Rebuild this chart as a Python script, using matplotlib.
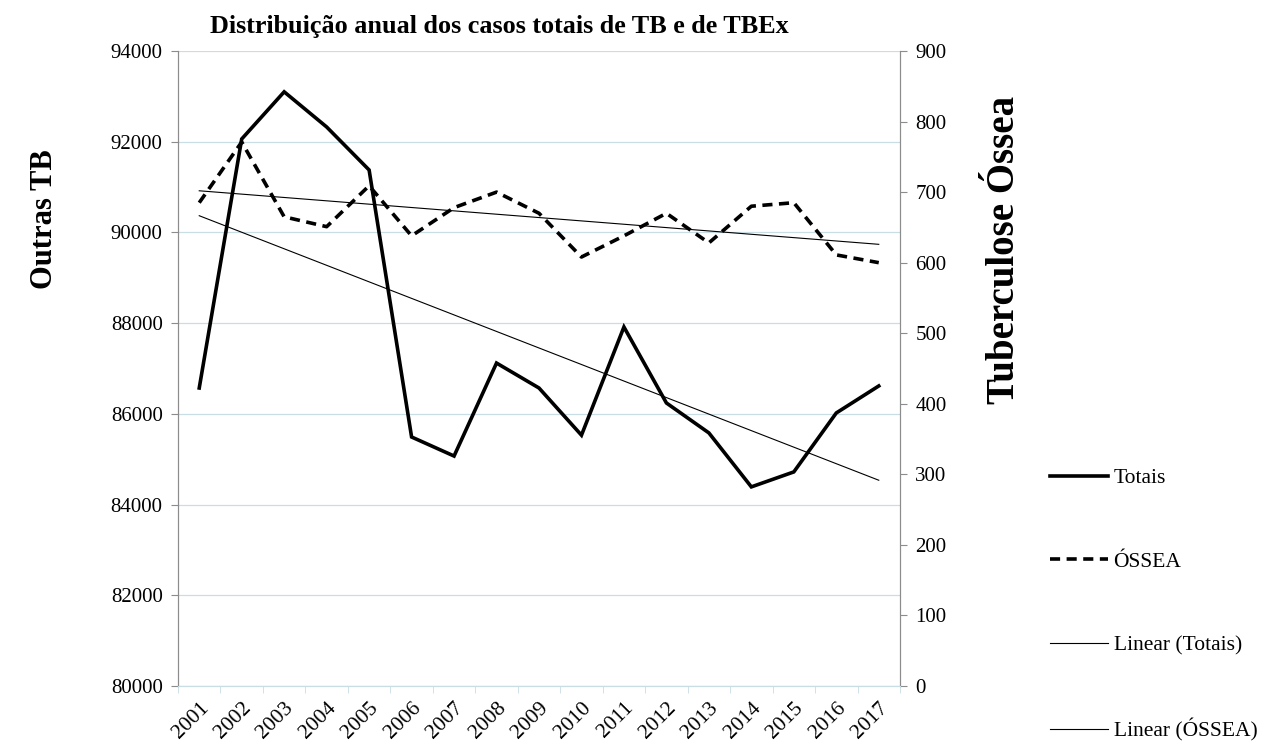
import numpy as np
import matplotlib
matplotlib.use("Agg")
import matplotlib.pyplot as plt

plt.rcParams["font.family"] = ["Liberation Serif", "DejaVu Serif"]

# Dados
anos = ["2001", "2002", "2003", "2004", "2005", "2006", "2007", "2008", "2009",
        "2010", "2011", "2012", "2013", "2014", "2015", "2016", "2017"]
totais = [86570, 92060, 93100, 92325, 91377, 85490, 85070, 87120, 86570,
          85530, 87915, 86240, 85580, 84390, 84720, 86020, 86615]
ossea = [685, 771, 665, 651, 709, 638, 678, 700, 670,
         608, 638, 670, 628, 680, 685, 611, 600]

titulo = "Distribuição anual dos casos totais de TB e de TBEx"
label_esq = "Outras TB"
label_dir = "Tuberculose Óssea"

x = np.arange(len(anos))
coef_tot = np.polyfit(x, totais, 1)
coef_oss = np.polyfit(x, ossea, 1)

fig = plt.figure(figsize=(12.69, 7.44), dpi=100)
ax = fig.add_axes([178 / 1269, 1 - 686 / 744, (900 - 178) / 1269, (686 - 51) / 744])
ax2 = ax.twinx()

grid_c = "#c9dde5"
spine_c = "#8c8c8c"

l1, = ax.plot(x, totais, color="black", lw=2.6, solid_joinstyle="miter", label="Totais")
l3, = ax.plot(x, np.polyval(coef_tot, x), color="black", lw=0.8, label="Linear (Totais)")
l2, = ax2.plot(x, ossea, color="black", lw=2.6, linestyle=(0, (2.8, 1.8)), label="ÓSSEA")
l4, = ax2.plot(x, np.polyval(coef_oss, x), color="black", lw=0.8, label="Linear (ÓSSEA)")

ax.set_xlim(-0.5, len(anos) - 0.5)
ax.set_ylim(80000, 94000)
ax.set_yticks(np.arange(80000, 94001, 2000))
ax2.set_ylim(0, 900)
ax2.set_yticks(np.arange(0, 901, 100))

ax.set_xticks(x)
ax.set_xticklabels(anos, rotation=45, ha="right", rotation_mode="anchor")
ax.set_xticks(np.arange(-0.5, len(anos)), minor=True)
ax.tick_params(axis="x", which="major", length=0, labelsize=15.5, pad=9)
ax.tick_params(axis="x", which="minor", length=5, color=grid_c)
ax.tick_params(axis="y", labelsize=15, length=5, color=spine_c, pad=6)
ax2.tick_params(axis="y", labelsize=15, length=5, color=spine_c, pad=6)

ax.grid(axis="y", color=grid_c, lw=0.9)
ax.set_axisbelow(True)

for a in (ax, ax2):
    a.spines["top"].set_visible(False)
    a.spines["left"].set_color(spine_c)
    a.spines["right"].set_color(spine_c)
    a.spines["bottom"].set_color(grid_c)

fig.text(499 / 1269, 1 - 26 / 744, titulo, ha="center", va="center",
         fontsize=18.8, fontweight="bold")
fig.text(45 / 1269, 1 - 219 / 744, label_esq, ha="center", va="center",
         rotation=90, fontsize=22, fontweight="bold")
fig.text(1005 / 1269, 1 - 250 / 744, label_dir, ha="center", va="center",
         rotation=90, fontsize=28, fontweight="bold")

fig.legend(handles=[l1, l2, l3, l4], loc="center left",
           bbox_to_anchor=(1050 / 1269, 1 - 605 / 744), frameon=False,
           fontsize=15.5, labelspacing=2.95, handlelength=2.7, handletextpad=0.25,
           borderpad=0, borderaxespad=0)

fig.savefig("out.png", dpi=100)
